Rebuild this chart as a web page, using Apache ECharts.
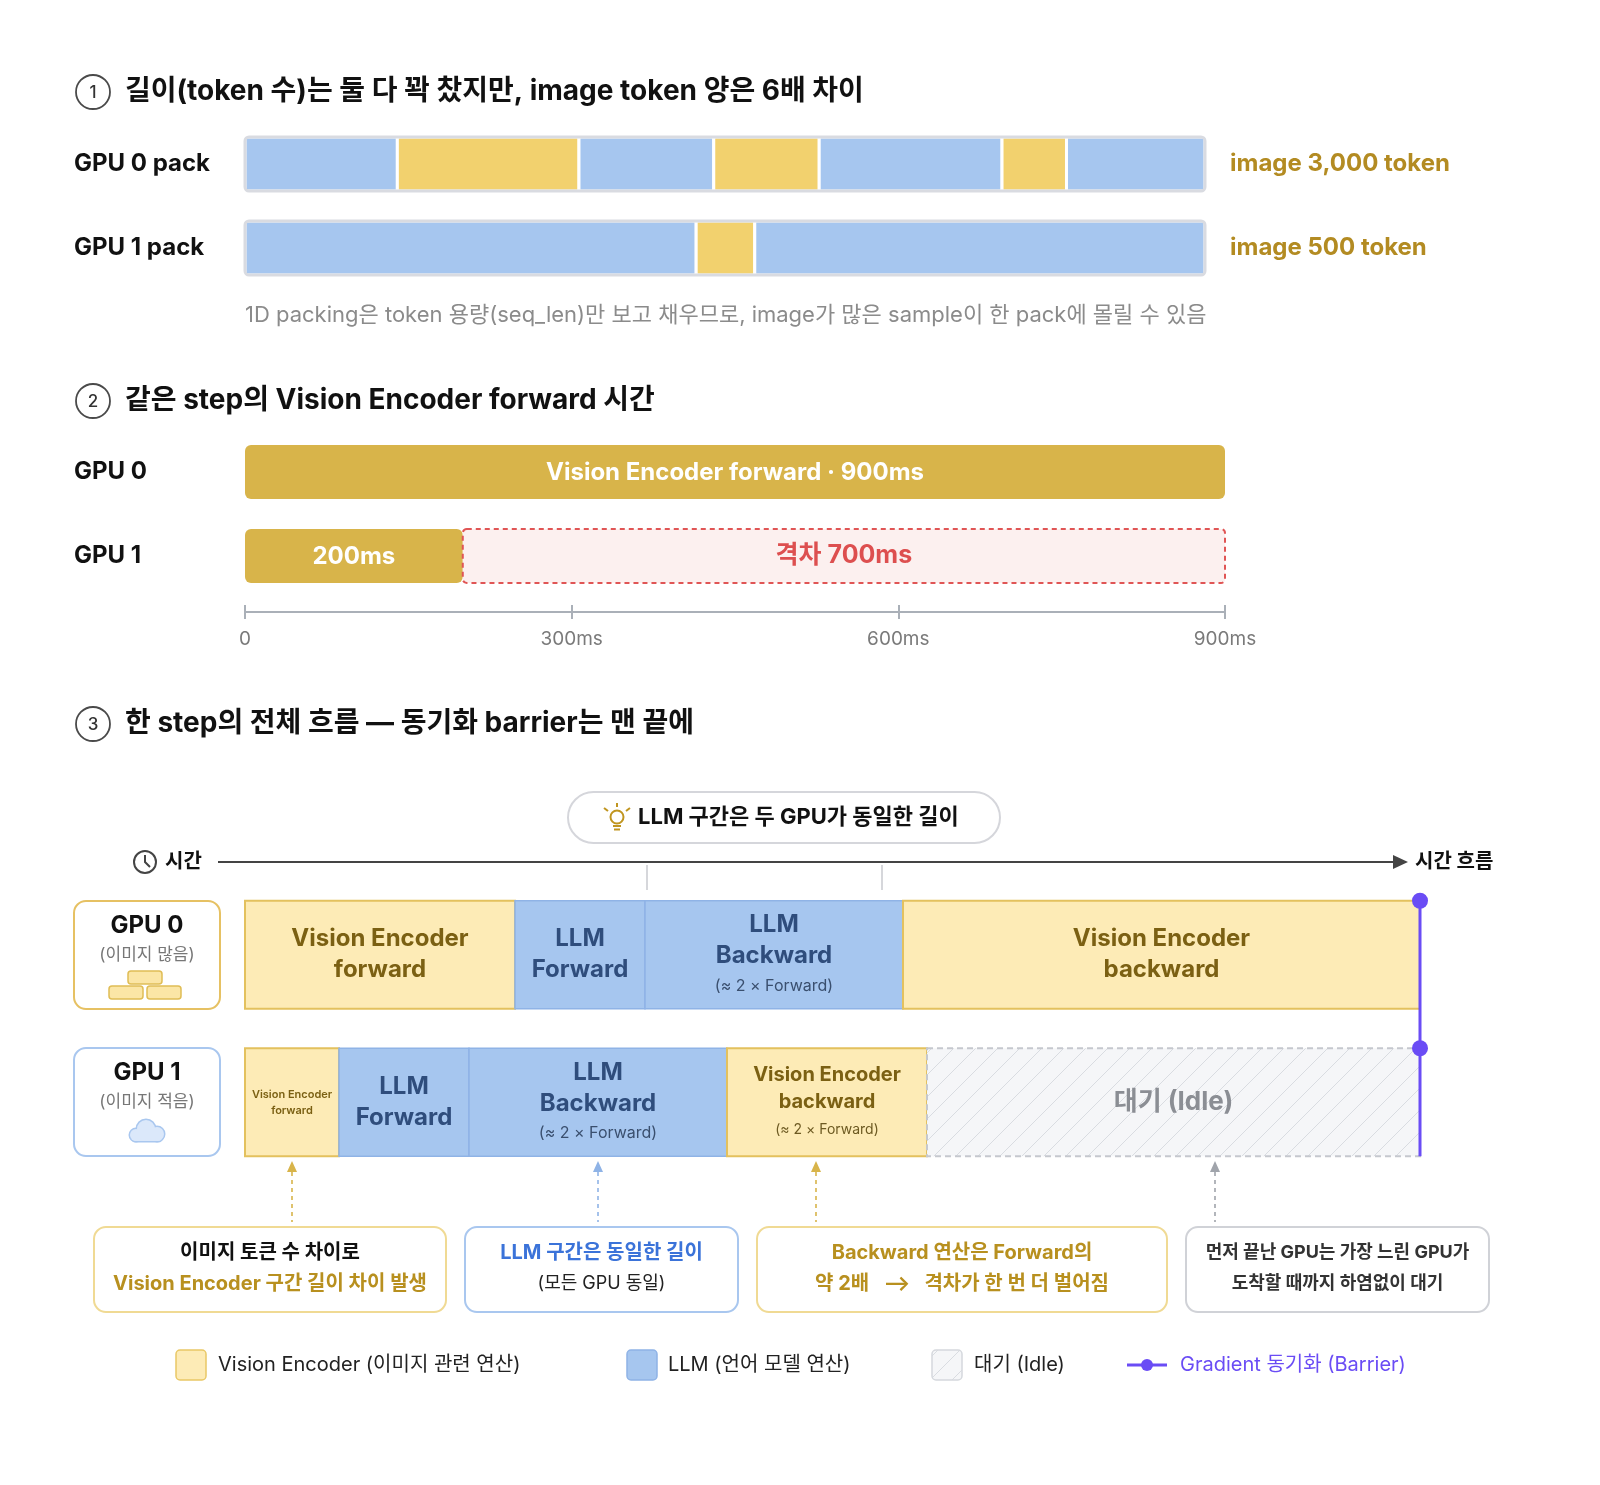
<!DOCTYPE html>
<html>
<head>
    <meta charset="utf-8" />
    <title>1D packing 불균형과 Vision Encoder 격차</title>
    <style>
        html, body { margin: 0; padding: 0; background: #fff; }
        #chart { width: 1600px; height: 1485px; }
    </style>
</head>
<body>
    <div id="chart"></div>
    <script src="https://cdn.jsdelivr.net/npm/echarts@6/dist/echarts.min.js"></script>
    <script type="text/javascript">
        var FONT = 'Inter, "Noto Sans CJK KR", "Noto Sans", sans-serif';

        // ① pack 구성 (token 단위, seq_len = 8192)
        var packRows = ['GPU 0 pack', 'GPU 1 pack'];
        var packImageLabels = ['image 3,000 token', 'image 500 token'];
        var packSeqLen = 8192;
        var gpu0PackTokens = [1300, 1550, 1150, 900, 1560, 550, 1182];
        var gpu0PackKinds = ['text', 'image', 'text', 'image', 'text', 'image', 'text'];
        var gpu1PackTokens = [3850, 500, 3842];
        var gpu1PackKinds = ['text', 'image', 'text'];

        // ② Vision Encoder forward 시간 (ms)
        var veRows = ['GPU 0', 'GPU 1'];
        var veForwardMs = [900, 200];
        var msTicks = [0, 300, 600, 900];

        // ③ 한 step 흐름 (상대 시간)
        var flowRows = ['GPU 0', 'GPU 1'];
        var flowGpu0 = [270, 130, 258, 517];
        var flowGpu0Kinds = ['ve', 'llm', 'llm', 've'];
        var flowGpu1 = [94, 130, 258, 200, 493];
        var flowGpu1Kinds = ['ve', 'llm', 'llm', 've', 'idle'];
        var flowGpu0Labels = [
            { text: 'Vision Encoder\nforward', size: 24, lh: 31 },
            { text: 'LLM\nForward', size: 24, lh: 31 },
            { text: 'LLM\nBackward', size: 24, lh: 31, sub: '(≈ 2 × Forward)', subSize: 16 },
            { text: 'Vision Encoder\nbackward', size: 24, lh: 31 }
        ];
        var flowGpu1Labels = [
            { text: 'Vision Encoder\nforward', size: 11, lh: 16 },
            { text: 'LLM\nForward', size: 24, lh: 31 },
            { text: 'LLM\nBackward', size: 24, lh: 31, sub: '(≈ 2 × Forward)', subSize: 16 },
            { text: 'Vision Encoder\nbackward', size: 20, lh: 27, sub: '(≈ 2 × Forward)', subSize: 14 },
            { text: '대기 (Idle)', size: 26, lh: 30 }
        ];

        // 빗금 패턴 (대기)
        var hatch = document.createElement('canvas');
        hatch.width = 22; hatch.height = 22;
        (function () {
            var c = hatch.getContext('2d');
            c.fillStyle = '#f5f6f8';
            c.fillRect(0, 0, 22, 22);
            c.strokeStyle = '#d9dce1';
            c.lineWidth = 1;
            c.beginPath();
            c.moveTo(0, 22); c.lineTo(22, 0);
            c.moveTo(-6, 6); c.lineTo(6, -6);
            c.moveTo(16, 28); c.lineTo(28, 16);
            c.stroke();
        })();
        var hatchFill = { image: hatch, repeat: 'repeat' };

        function toSegs(row, lens, kinds, labels) {
            var out = [], t = 0;
            for (var i = 0; i < lens.length; i++) {
                out.push({ value: [row, t, t + lens[i]], kind: kinds[i], label: labels ? labels[i] : null });
                t += lens[i];
            }
            return out;
        }
        var packSegs = toSegs(0, gpu0PackTokens, gpu0PackKinds).concat(toSegs(1, gpu1PackTokens, gpu1PackKinds));
        var veSegs = [
            { value: [0, 0, veForwardMs[0]], kind: 've', label: 'Vision Encoder forward · ' + veForwardMs[0] + 'ms' },
            { value: [1, 0, veForwardMs[1]], kind: 've', label: veForwardMs[1] + 'ms' },
            { value: [1, veForwardMs[1], veForwardMs[0]], kind: 'gap', label: '격차 ' + (veForwardMs[0] - veForwardMs[1]) + 'ms' }
        ];
        var flowSegs = toSegs(0, flowGpu0, flowGpu0Kinds, flowGpu0Labels).concat(toSegs(1, flowGpu1, flowGpu1Kinds, flowGpu1Labels));
        var flowTotal = flowGpu0.reduce(function (a, b) { return a + b; }, 0);

        function span(api) {
            var s = api.coord([api.value(1), api.value(0)]);
            var e = api.coord([api.value(2), api.value(0)]);
            return { x: s[0], cy: s[1], w: e[0] - s[0] };
        }
        function txt(x, y, text, size, color, weight, align, extra) {
            var st = {
                text: text, fill: color, fontSize: size, fontWeight: weight || 'normal', fontFamily: FONT,
                align: align || 'left', textAlign: align || 'left', verticalAlign: 'middle', textVerticalAlign: 'middle'
            };
            if (extra) { for (var k in extra) st[k] = extra[k]; }
            return { type: 'text', x: x, y: y, style: st, z: 20 };
        }

        function renderPack(params, api) {
            var seg = packSegs[params.dataIndex], p = span(api), h = 54;
            return {
                type: 'rect', shape: { x: p.x, y: p.cy - h / 2, width: p.w, height: h },
                style: { fill: seg.kind === 'image' ? '#f2d16e' : '#a6c6ef', stroke: '#fff', lineWidth: 3 }
            };
        }
        function renderPackFrame(params, api) {
            var p = span(api), h = 54;
            return {
                type: 'rect', shape: { x: p.x, y: p.cy - h / 2, width: p.w, height: h, r: 4 },
                style: { fill: null, stroke: '#d9dbe1', lineWidth: 3 }
            };
        }
        function renderVe(params, api) {
            var seg = veSegs[params.dataIndex], p = span(api), h = 54;
            var gap = seg.kind === 'gap';
            return {
                type: 'group', children: [
                    {
                        type: 'rect', shape: { x: p.x, y: p.cy - h / 2, width: p.w, height: h, r: gap ? 4 : 6 },
                        style: gap ? { fill: '#fcf0ef', stroke: '#e05555', lineWidth: 2, lineDash: [5, 4] } : { fill: '#d8b44a' }
                    },
                    txt(p.x + p.w / 2, p.cy + (gap ? -1 : 1), seg.label, gap ? 25 : 24, gap ? '#dd4f4f' : '#fff', 'bold', 'center')
                ]
            };
        }
        var flowFill = { ve: '#fdebb6', llm: '#a6c6ef', idle: hatchFill };
        var flowStroke = { ve: '#e3c15e', llm: '#8fb3e6', idle: '#c5c8ce' };
        var flowText = { ve: '#7b6013', llm: '#2f4d7c', idle: '#8b8e94' };
        function renderFlow(params, api) {
            var seg = flowSegs[params.dataIndex], p = span(api), h = 108;
            var lb = seg.label, cx = p.x + p.w / 2;
            var kids = [{
                type: 'rect', shape: { x: p.x, y: p.cy - h / 2, width: p.w, height: h },
                style: {
                    fill: flowFill[seg.kind], stroke: flowStroke[seg.kind], lineWidth: seg.kind === 'llm' ? 1.5 : 2,
                    lineDash: seg.kind === 'idle' ? [6, 4] : null
                }
            }];
            var weight = lb.size < 14 ? 600 : 'bold';
            kids.push(txt(cx, p.cy + (lb.sub ? -14 : 0), lb.text, lb.size, flowText[seg.kind], weight, 'center', { lineHeight: lb.lh }));
            if (lb.sub) {
                kids.push(txt(cx, p.cy + (lb.subSize < 16 ? 28 : 31), lb.sub, lb.subSize, seg.kind === 'llm' ? '#3a4f6e' : '#6d5a22', 'normal', 'center'));
            }
            return { type: 'group', children: kids };
        }
        function renderBarrier(params, api) {
            var a = api.coord([api.value(0), 0]), b = api.coord([api.value(0), 1]), h = 108;
            var c = '#6a4cf5';
            return {
                type: 'group', children: [
                    { type: 'line', shape: { x1: a[0], y1: a[1] - h / 2, x2: a[0], y2: b[1] + h / 2 }, style: { stroke: c, lineWidth: 3 } },
                    { type: 'circle', shape: { cx: a[0], cy: a[1] - h / 2, r: 8 }, style: { fill: c } },
                    { type: 'circle', shape: { cx: b[0], cy: b[1] - h / 2, r: 8 }, style: { fill: c } }
                ]
            };
        }

        // ----- 그래픽 (제목, 상자, 주석, 범례) -----
        var g = [];
        [[92, '1', '길이(token 수)는 둘 다 꽉 찼지만, image token 양은 6배 차이'],
         [401, '2', '같은 step의 Vision Encoder forward 시간'],
         [724, '3', '한 step의 전체 흐름 — 동기화 barrier는 맨 끝에']].forEach(function (h) {
            g.push({ type: 'circle', shape: { cx: 93, cy: h[0], r: 17 }, style: { fill: '#fff', stroke: '#4a4a4a', lineWidth: 1.8 } });
            g.push(txt(93, h[0] + 1, h[1], 17, '#333', 500, 'center'));
            g.push(txt(125, h[0], h[2], 28, '#111', 'bold'));
        });
        g.push(txt(245, 315, '1D packing은 token 용량(seq_len)만 보고 채우므로, image가 많은 sample이 한 pack에 몰릴 수 있음', 22, '#8b8b8b'));

        // 알림 pill
        g.push({ type: 'rect', shape: { x: 568, y: 792, width: 432, height: 51, r: 25.5 }, style: { fill: '#fff', stroke: '#d5d6db', lineWidth: 2 } });
        var gold = '#c0951f';
        g.push({ type: 'circle', shape: { cx: 617, cy: 817, r: 6.5 }, style: { fill: null, stroke: gold, lineWidth: 2 } });
        g.push({ type: 'line', shape: { x1: 613, y1: 826, x2: 621, y2: 826 }, style: { stroke: gold, lineWidth: 2 } });
        g.push({ type: 'line', shape: { x1: 614, y1: 829.5, x2: 620, y2: 829.5 }, style: { stroke: gold, lineWidth: 2 } });
        g.push({ type: 'line', shape: { x1: 617, y1: 803, x2: 617, y2: 807 }, style: { stroke: gold, lineWidth: 2 } });
        g.push({ type: 'line', shape: { x1: 604, y1: 808, x2: 608, y2: 811 }, style: { stroke: gold, lineWidth: 2 } });
        g.push({ type: 'line', shape: { x1: 630, y1: 808, x2: 626, y2: 811 }, style: { stroke: gold, lineWidth: 2 } });
        g.push(txt(638, 817, 'LLM 구간은 두 GPU가 동일한 길이', 22, '#111', 'bold'));

        // 시간 축
        g.push({ type: 'circle', shape: { cx: 145, cy: 862, r: 11 }, style: { fill: null, stroke: '#444', lineWidth: 2 } });
        g.push({ type: 'polyline', shape: { points: [[145, 855], [145, 862], [150, 867]] }, style: { stroke: '#444', lineWidth: 2, fill: null } });
        g.push(txt(165, 862, '시간', 20, '#111', 'bold'));
        g.push({ type: 'line', shape: { x1: 218, y1: 862, x2: 1396, y2: 862 }, style: { stroke: '#444', lineWidth: 2 } });
        g.push({ type: 'polygon', shape: { points: [[1393, 855], [1408, 862], [1393, 869]] }, style: { fill: '#444' } });
        g.push(txt(1415, 862, '시간 흐름', 20, '#111', 'bold'));
        [647, 882].forEach(function (x) {
            g.push({ type: 'line', shape: { x1: x, y1: 865, x2: x, y2: 890 }, style: { stroke: '#c8cacf', lineWidth: 1.5 } });
        });

        // GPU 상자
        g.push({ type: 'rect', shape: { x: 74, y: 901, width: 146, height: 108, r: 12 }, style: { fill: '#fff', stroke: '#e6c163', lineWidth: 2 } });
        g.push(txt(147, 926, 'GPU 0', 24, '#111', 'bold', 'center'));
        g.push(txt(147, 955, '(이미지 많음)', 17, '#777', 'normal', 'center'));
        [[128, 971], [109, 986], [147, 986]].forEach(function (b) {
            g.push({ type: 'rect', shape: { x: b[0], y: b[1], width: 34, height: 13, r: 3 }, style: { fill: '#fbe6a6', stroke: '#e0bd55', lineWidth: 1.5 } });
        });
        g.push({ type: 'rect', shape: { x: 74, y: 1048, width: 146, height: 108, r: 12 }, style: { fill: '#fff', stroke: '#a9c7ef', lineWidth: 2 } });
        g.push(txt(147, 1073, 'GPU 1', 24, '#111', 'bold', 'center'));
        g.push(txt(147, 1102, '(이미지 적음)', 17, '#777', 'normal', 'center'));
        // 구름 아이콘: 윤곽 먼저, 채움 나중
        var cloudParts = [
            { type: 'circle', shape: { cx: 136, cy: 1135, r: 6 } },
            { type: 'circle', shape: { cx: 146, cy: 1129, r: 9 } },
            { type: 'circle', shape: { cx: 157, cy: 1134, r: 7 } },
            { type: 'rect', shape: { x: 132, y: 1133, width: 30, height: 8, r: 4 } }
        ];
        [['#a9c7ef', 3], ['#dbe8fa', 0]].forEach(function (layer, li) {
            cloudParts.forEach(function (cp) {
                g.push({
                    type: cp.type, shape: cp.shape, z: 10 + li,
                    style: li === 0 ? { fill: layer[0], stroke: layer[0], lineWidth: layer[1] } : { fill: layer[0] }
                });
            });
        });

        // 점선 화살표
        [[292, '#d8b44a'], [598, '#8fb3e6'], [816, '#d8b44a'], [1215, '#a0a4ab']].forEach(function (a) {
            g.push({ type: 'line', shape: { x1: a[0], y1: 1172, x2: a[0], y2: 1222 }, style: { stroke: a[1], lineWidth: 1.6, lineDash: [4, 4] } });
            g.push({ type: 'polygon', shape: { points: [[a[0] - 5, 1172], [a[0], 1161], [a[0] + 5, 1172]] }, style: { fill: a[1] } });
        });

        // 주석 상자
        var callouts = [
            { x: 94, w: 352, stroke: '#f0da94', l1: '이미지 토큰 수 차이로', c1: '#111', l2: 'Vision Encoder 구간 길이 차이 발생', c2: '#b8901f', s: 20, w2: 'bold' },
            { x: 465, w: 273, stroke: '#a9c7ef', l1: 'LLM 구간은 동일한 길이', c1: '#3b73d9', l2: '(모든 GPU 동일)', c2: '#222', s: 20, w2: 'normal', s2: 18 },
            { x: 757, w: 410, stroke: '#f0da94', l1: 'Backward 연산은 Forward의', c1: '#b8901f', l2: '약 2배   ⟶   격차가 한 번 더 벌어짐', c2: '#b8901f', s: 20, w2: 'bold' },
            { x: 1186, w: 303, stroke: '#d0d2d7', l1: '먼저 끝난 GPU는 가장 느린 GPU가', c1: '#333', l2: '도착할 때까지 하염없이 대기', c2: '#333', s: 18, w2: 'bold' }
        ];
        callouts.forEach(function (c) {
            g.push({ type: 'rect', shape: { x: c.x, y: 1227, width: c.w, height: 85, r: 12 }, style: { fill: '#fff', stroke: c.stroke, lineWidth: 2 } });
            g.push(txt(c.x + c.w / 2, 1253, c.l1, c.s, c.c1, 'bold', 'center'));
            g.push(txt(c.x + c.w / 2, 1284, c.l2, c.s2 || c.s, c.c2, c.w2, 'center'));
        });

        // 범례
        g.push({ type: 'rect', shape: { x: 176, y: 1350, width: 30, height: 30, r: 4 }, style: { fill: '#fdebb6', stroke: '#e9c866', lineWidth: 1.5 } });
        g.push(txt(218, 1365, 'Vision Encoder (이미지 관련 연산)', 20, '#222'));
        g.push({ type: 'rect', shape: { x: 627, y: 1350, width: 30, height: 30, r: 4 }, style: { fill: '#a6c6ef', stroke: '#8fb3e6', lineWidth: 1.5 } });
        g.push(txt(668, 1365, 'LLM (언어 모델 연산)', 20, '#222'));
        g.push({ type: 'rect', shape: { x: 932, y: 1350, width: 30, height: 30, r: 4 }, style: { fill: hatchFill, stroke: '#d5d8dd', lineWidth: 1.5 } });
        g.push(txt(974, 1365, '대기 (Idle)', 20, '#222'));
        g.push({ type: 'line', shape: { x1: 1127, y1: 1365, x2: 1167, y2: 1365 }, style: { stroke: '#6a4cf5', lineWidth: 3 } });
        g.push({ type: 'circle', shape: { cx: 1147, cy: 1365, r: 6 }, style: { fill: '#6a4cf5' } });
        g.push(txt(1180, 1365, 'Gradient 동기화 (Barrier)', 20, '#6a4cf5'));

        var rowLabel = { align: 'left', margin: 171, fontSize: 24, fontWeight: 'bold', color: '#111', fontFamily: FONT };
        var noLine = { show: false };
        var msAxisLine = { show: true, lineStyle: { color: '#aab0b8', width: 2 } };

        var myChart = echarts.init(document.getElementById('chart'), null, { renderer: 'canvas' });
        var option = {
            animation: false,
            backgroundColor: '#fff',
            textStyle: { fontFamily: FONT },
            grid: [
                { left: 245, width: 960, top: 122, height: 168 },
                { left: 245, width: 980, top: 430, height: 168 },
                { left: 245, width: 1175, top: 881, height: 295 }
            ],
            xAxis: [
                { gridIndex: 0, type: 'value', min: 0, max: packSeqLen, show: false },
                {
                    gridIndex: 1, type: 'value', position: 'bottom', min: msTicks[0], max: msTicks[msTicks.length - 1], interval: msTicks[1] - msTicks[0],
                    offset: 14, axisLine: msAxisLine, splitLine: noLine,
                    axisTick: { show: true, length: 7, lineStyle: { color: '#aab0b8', width: 2 } },
                    axisLabel: {
                        margin: 18, fontSize: 19, color: '#7a7a7a', fontFamily: FONT,
                        formatter: function (v) { return v === 0 ? '0' : v + 'ms'; }
                    }
                },
                {
                    gridIndex: 1, type: 'value', position: 'bottom', min: msTicks[0], max: msTicks[msTicks.length - 1], interval: msTicks[1] - msTicks[0],
                    offset: 14, axisLine: msAxisLine, splitLine: noLine, axisLabel: noLine,
                    axisTick: { show: true, inside: true, length: 7, lineStyle: { color: '#aab0b8', width: 2 } }
                },
                { gridIndex: 2, type: 'value', min: 0, max: flowTotal, show: false }
            ],
            yAxis: [
                { gridIndex: 0, type: 'category', data: packRows, inverse: true, axisLine: noLine, axisTick: noLine, axisLabel: rowLabel },
                {
                    gridIndex: 0, type: 'category', data: packImageLabels, inverse: true, position: 'right', axisLine: noLine, axisTick: noLine,
                    axisLabel: { align: 'left', margin: 25, fontSize: 24, fontWeight: 'bold', color: '#b38b22', fontFamily: FONT }
                },
                { gridIndex: 1, type: 'category', data: veRows, inverse: true, axisLine: noLine, axisTick: noLine, axisLabel: rowLabel },
                { gridIndex: 2, type: 'category', data: flowRows, inverse: true, show: false }
            ],
            series: [
                { type: 'custom', xAxisIndex: 0, yAxisIndex: 0, renderItem: renderPack, data: packSegs, encode: { x: [1, 2], y: 0 }, z: 2 },
                { type: 'custom', xAxisIndex: 0, yAxisIndex: 0, renderItem: renderPackFrame, data: [[0, 0, packSeqLen], [1, 0, packSeqLen]], encode: { x: [1, 2], y: 0 }, z: 3 },
                { type: 'custom', xAxisIndex: 1, yAxisIndex: 2, renderItem: renderVe, data: veSegs, encode: { x: [1, 2], y: 0 }, z: 2 },
                { type: 'custom', xAxisIndex: 3, yAxisIndex: 3, renderItem: renderFlow, data: flowSegs, encode: { x: [1, 2], y: 0 }, z: 2 },
                { type: 'custom', xAxisIndex: 3, yAxisIndex: 3, renderItem: renderBarrier, data: [[flowTotal]], encode: { x: 0 }, z: 4 }
            ],
            graphic: { elements: g }
        };
        myChart.setOption(option);
    </script>
</body>
</html>
